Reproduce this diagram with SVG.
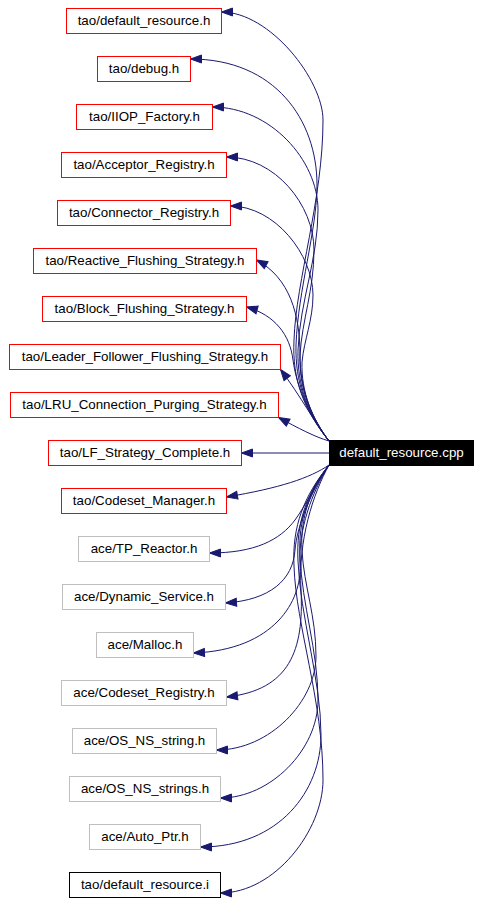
<svg xmlns="http://www.w3.org/2000/svg" width="482" height="903" viewBox="0 0 482 903">
<defs>
<style>
.n rect{fill:#ffffff;stroke-width:1}
.t rect{stroke:#ff0000}
.a rect{stroke:#bfbfbf}
.k rect{stroke:#000000}
.n text{font-family:"Liberation Sans",Arial,Helvetica,sans-serif;font-size:13.33px;text-anchor:middle;fill:#000000}
#cpp rect{fill:#000000;stroke:#000000}
#cpp text{fill:#ffffff}
.e path{fill:none;stroke:#191970;stroke-width:1;marker-end:url(#ah)}
</style>
<marker id="ah" markerWidth="13" markerHeight="10" refX="11" refY="4" orient="auto" markerUnits="userSpaceOnUse" overflow="visible">
<path d="M0,0 L11,4 L0,8 Z" fill="#191970" stroke="#191970" stroke-width="1"/>
</marker>
</defs>
<rect x="0" y="0" width="482" height="903" fill="#ffffff"/>
<g id="edges" class="e">
<path d="M329,441 C304,410 292,380 294,340 C296,280 323,200 323,120 C323,80 270,12 221.5,12"/>
<path d="M329,441 C306,412 295,382 296,345 C298,290 317,230 317,185 C317,120 275,59 190.5,59"/>
<path d="M329,441 C308,414 297,385 298,350 C300,300 318,260 318,210 C318,160 270,107 212.5,107"/>
<path d="M329,441 C310,416 299,388 300,355 C302,320 314,290 314,250 C314,205 275,157 226.5,157"/>
<path d="M329,441 C312,418 301,392 302,362 C304,340 313,320 313,295 C313,255 275,206 230.5,206"/>
<path d="M329,441 C313,420 300,392 300,355 C300,315 290,278 256.5,260"/>
<path d="M329,441 C312,420 297,390 293,360 C290,335 275,315 246.5,307"/>
<path d="M329,441 C316,425 300,395 280.5,369.5"/>
<path d="M329,441 C315,437 298,428 278.5,417.5"/>
<path d="M329,453 L241.5,453"/>
<path d="M329,465 C310,478 280,488 226.5,497"/>
<path d="M329,465 C318,480 306,505 295,520 C280,540 255,553 209.5,553"/>
<path d="M329,465 C312,490 297,525 295,550 C293,580 270,600 225.5,603"/>
<path d="M329,465 C312,492 298,530 300,565 C302,600 275,650 193.5,653"/>
<path d="M329,465 C313,494 298,540 301,590 C304,650 290,690 226.5,697"/>
<path d="M329,465 C310,490 300,518 302,551 C304,586 316,616 316,656 C316,701 270,750 216.5,750"/>
<path d="M329,465 C308,492 298,521 300,556 C302,606 318,650 318,700 C318,750 270,798 220.5,798"/>
<path d="M329,465 C306,494 296,524 298,561 C300,616 321,680 321,735 C321,790 280,847 200.5,847"/>
<path d="M329,465 C304,496 292,526 294,566 C296,626 323,700 323,780 C323,830 275,893 220.5,893"/>
</g>
<g id="n0" class="n t"><rect x="66.5" y="8.5" width="155" height="25"/><text x="144" y="25">tao/default_resource.h</text></g>
<g id="n1" class="n t"><rect x="97.5" y="56.5" width="93" height="25"/><text x="144" y="73">tao/debug.h</text></g>
<g id="n2" class="n t"><rect x="76.5" y="104.5" width="136" height="25"/><text x="144.5" y="121">tao/IIOP_Factory.h</text></g>
<g id="n3" class="n t"><rect x="61.5" y="152.5" width="165" height="25"/><text x="144" y="169">tao/Acceptor_Registry.h</text></g>
<g id="n4" class="n t"><rect x="57.5" y="200.5" width="173" height="25"/><text x="144" y="217">tao/Connector_Registry.h</text></g>
<g id="n5" class="n t"><rect x="33.5" y="248.5" width="223" height="25"/><text x="145" y="265">tao/Reactive_Flushing_Strategy.h</text></g>
<g id="n6" class="n t"><rect x="42.5" y="296.5" width="204" height="25"/><text x="144.5" y="313">tao/Block_Flushing_Strategy.h</text></g>
<g id="n7" class="n t"><rect x="9.5" y="344.5" width="271" height="25"/><text x="145" y="361">tao/Leader_Follower_Flushing_Strategy.h</text></g>
<g id="n8" class="n t"><rect x="10.5" y="392.5" width="268" height="25"/><text x="144.5" y="409">tao/LRU_Connection_Purging_Strategy.h</text></g>
<g id="n9" class="n t"><rect x="48.5" y="440.5" width="193" height="25"/><text x="145" y="457">tao/LF_Strategy_Complete.h</text></g>
<g id="cpp" class="n"><rect x="329.5" y="440.5" width="144" height="25"/><text x="401.5" y="457">default_resource.cpp</text></g>
<g id="n10" class="n t"><rect x="61.5" y="488.5" width="165" height="25"/><text x="144" y="505">tao/Codeset_Manager.h</text></g>
<g id="n11" class="n a"><rect x="78.5" y="536.5" width="131" height="25"/><text x="144" y="553">ace/TP_Reactor.h</text></g>
<g id="n12" class="n a"><rect x="62.5" y="584.5" width="163" height="25"/><text x="144" y="601">ace/Dynamic_Service.h</text></g>
<g id="n13" class="n a"><rect x="96.5" y="632.5" width="97" height="25"/><text x="145" y="649">ace/Malloc.h</text></g>
<g id="n14" class="n a"><rect x="61.5" y="680.5" width="165" height="25"/><text x="144" y="697">ace/Codeset_Registry.h</text></g>
<g id="n15" class="n a"><rect x="72.5" y="728.5" width="144" height="25"/><text x="144.5" y="745">ace/OS_NS_string.h</text></g>
<g id="n16" class="n a"><rect x="69.5" y="776.5" width="151" height="25"/><text x="145" y="793">ace/OS_NS_strings.h</text></g>
<g id="n17" class="n a"><rect x="89.5" y="824.5" width="111" height="25"/><text x="145" y="841">ace/Auto_Ptr.h</text></g>
<g id="n18" class="n k"><rect x="69.5" y="872.5" width="151" height="25"/><text x="145" y="889">tao/default_resource.i</text></g>
</svg>
